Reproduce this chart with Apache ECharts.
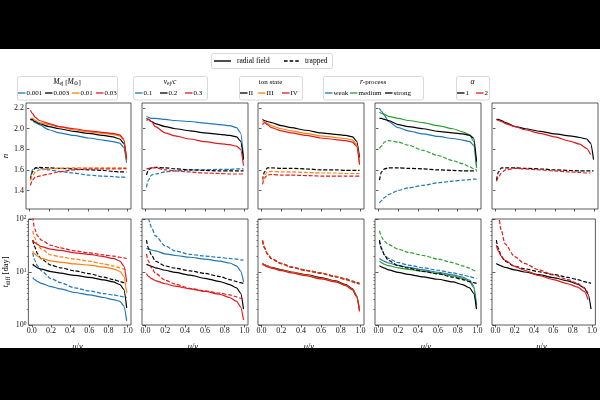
<!DOCTYPE html>
<html><head><meta charset="utf-8">
<script src="https://cdn.jsdelivr.net/npm/echarts@6/dist/echarts.min.js"></script>
<style>
html,body{margin:0;padding:0;background:#000;}
#wrap{position:relative;width:600px;height:400px;background:#000;}
#white{position:absolute;left:0;top:49px;width:600px;height:299px;background:#fff;}
#c{position:absolute;left:0;top:0;width:600px;height:400px;}
</style>
</head><body><div id="wrap"><div id="white"></div><div id="c"></div></div>
<script>
// sample positions u/v_ej
const X = [0.01,0.03,0.06,0.1,0.2,0.3,0.45,0.6,0.75,0.85,0.92,0.96,0.99];

// ---- top row: n ----
// M_ej
const n_m1_rad  = [2.09,2.08,2.06,2.04,1.99,1.96,1.935,1.91,1.89,1.875,1.86,1.82,1.67];
const n_m2_rad  = [2.09,2.09,2.07,2.05,2.02,2.00,1.975,1.955,1.935,1.92,1.90,1.86,1.70];
const n_m3_rad  = [2.10,2.10,2.08,2.06,2.04,2.02,1.99,1.97,1.955,1.945,1.93,1.89,1.70];
const n_m4_rad  = [2.18,2.15,2.11,2.08,2.05,2.02,2.00,1.98,1.965,1.955,1.94,1.90,1.71];
const n_m1_trap = [1.52,1.60,1.62,1.615,1.60,1.585,1.57,1.55,1.54,1.535,1.53,1.53,1.525];
const n_m2_trap = [1.50,1.58,1.62,1.625,1.62,1.615,1.61,1.60,1.595,1.585,1.58,1.58,1.58];
const n_m3_trap = [1.50,1.54,1.58,1.60,1.61,1.615,1.62,1.62,1.62,1.62,1.62,1.62,1.62];
const n_m4_trap = [1.45,1.50,1.53,1.54,1.56,1.58,1.60,1.61,1.61,1.61,1.61,1.615,1.61];
// v_ej
const n_v1_rad  = [2.12,2.11,2.10,2.10,2.09,2.08,2.07,2.055,2.04,2.03,2.01,1.96,1.72];
const n_v2_rad  = [2.10,2.09,2.07,2.05,2.02,2.00,1.98,1.96,1.945,1.935,1.92,1.88,1.70];
const n_v3_rad  = [2.08,2.09,2.07,2.02,1.96,1.93,1.90,1.875,1.855,1.845,1.83,1.80,1.64];
const n_v1_trap = [1.43,1.50,1.55,1.56,1.58,1.59,1.60,1.60,1.605,1.605,1.61,1.61,1.61];
const n_v2_trap = [1.55,1.60,1.62,1.625,1.62,1.61,1.60,1.595,1.59,1.59,1.59,1.59,1.59];
const n_v3_trap = [1.61,1.615,1.62,1.62,1.60,1.59,1.58,1.57,1.565,1.56,1.56,1.56,1.56];
// ion state
const n_i2_rad  = [2.09,2.08,2.07,2.06,2.03,2.01,1.985,1.96,1.945,1.935,1.92,1.88,1.72];
const n_i3_rad  = [2.07,2.07,2.05,2.03,2.00,1.98,1.955,1.93,1.915,1.905,1.89,1.85,1.67];
const n_i4_rad  = [2.04,2.06,2.04,2.01,1.98,1.96,1.935,1.91,1.895,1.885,1.87,1.83,1.65];
const n_i2_trap = [1.50,1.58,1.62,1.62,1.615,1.615,1.61,1.60,1.60,1.595,1.595,1.595,1.595];
const n_i3_trap = [1.50,1.55,1.58,1.585,1.58,1.58,1.575,1.57,1.57,1.565,1.565,1.565,1.565];
const n_i4_trap = [1.46,1.52,1.55,1.555,1.55,1.55,1.545,1.54,1.54,1.54,1.54,1.54,1.54];
// r-process
const n_rw_rad  = [2.20,2.17,2.13,2.07,2.01,1.98,1.95,1.925,1.905,1.89,1.875,1.84,1.62];
const n_rm_rad  = [2.16,2.15,2.14,2.12,2.10,2.08,2.06,2.03,2.00,1.97,1.94,1.88,1.64];
const n_rs_rad  = [2.10,2.10,2.09,2.08,2.04,2.02,2.00,1.975,1.96,1.95,1.935,1.91,1.68];
const n_rw_trap = [1.28,1.30,1.33,1.36,1.40,1.425,1.45,1.475,1.49,1.50,1.505,1.51,1.51];
const n_rm_trap = [1.81,1.83,1.87,1.885,1.87,1.84,1.79,1.74,1.69,1.66,1.63,1.61,1.60];
const n_rs_trap = [1.50,1.58,1.61,1.62,1.62,1.615,1.61,1.60,1.595,1.59,1.59,1.59,1.59];
// alpha
const n_a1_rad  = [2.09,2.09,2.08,2.06,2.02,2.00,1.975,1.95,1.93,1.915,1.90,1.86,1.70];
const n_a2_rad  = [2.09,2.08,2.07,2.05,2.02,1.99,1.955,1.92,1.88,1.85,1.81,1.75,null];
const n_a1_trap = [1.50,1.58,1.62,1.62,1.62,1.615,1.61,1.60,1.595,1.59,1.59,1.59,1.59];
const n_a2_trap = [1.49,1.53,1.57,1.60,1.615,1.61,1.60,1.59,1.58,1.575,1.57,1.57,null];

// ---- bottom row: t_diff [day] ----
const t_m1_rad  = [7.8,7.2,6.6,6.1,5.3,4.8,4.1,3.7,3.3,3.0,2.8,2.3,1.2];
const t_m2_rad  = [14,13,12,11.3,10.2,9.5,8.6,7.9,7.1,6.5,5.8,4.7,2.1];
const t_m3_rad  = [25,22,20,18,16.2,15.3,14.2,13.5,12.4,11.5,10.3,8.3,4.0];
const t_m4_rad  = [40,36,33,30,27,25.5,23,21.5,19.5,18,16,13,6.5];
const t_m1_trap = [23,17,13,10.5,7.5,6.3,5.0,4.4,3.9,3.7,3.5,3.4,3.3];
const t_m2_trap = [40,30,22,17.5,13.5,12,10.5,9.3,8.0,7.2,6.6,6.3,6.1];
const t_m3_trap = [60,45,33,27,21,19.3,17.5,16,14.2,13,12,11.3,10.8];
const t_m4_trap = [110,66,48,40,32,28.5,25,23,21,20,19,18.5,18];

const t_v1_rad  = [28,27,26,25,22,20.5,19,17.5,16,14.8,13,10.5,6.5];
const t_v2_rad  = [14,13.5,12.8,12,10.8,9.8,8.7,7.6,6.6,5.8,5.0,4.0,2.0];
const t_v3_rad  = [9.3,8.3,7.5,6.9,6.0,5.4,4.8,4.3,3.8,3.3,2.8,2.2,1.25];
const t_v1_trap = [130,100,70,48,31,25,21.5,20,18.8,18,17.5,17,16.8];
const t_v2_trap = [40,28,21,16,13,11.8,10.5,9.4,8.2,7.2,6.6,6.3,6.1];
const t_v3_trap = [22,16,12,9.5,7.0,5.9,4.9,4.4,4.0,3.7,3.4,3.2,3.0];

const t_i2_rad  = [14.5,13.8,13,12.2,11,10,8.9,7.8,6.8,5.8,4.8,3.6,1.9];
const t_i3_rad  = [14.3,13.6,12.8,12.0,10.8,9.8,8.7,7.6,6.6,5.6,4.7,3.5,1.85];
const t_i4_rad  = [14.0,13.3,12.5,11.8,10.6,9.6,8.5,7.4,6.5,5.5,4.6,3.4,1.8];
const t_i2_trap = [40,29,22,18,14.5,12.5,10.8,9.6,8.3,7.4,6.7,6.3,6.1];
const t_i3_trap = [40,29,22,18,14.4,12.4,10.7,9.5,8.2,7.3,6.6,6.2,6.0];
const t_i4_trap = [39,28.5,21.7,17.8,14.3,12.3,10.6,9.4,8.1,7.2,6.5,6.1,5.9];

const t_rw_rad  = [18,17,15.8,14.8,13.3,12.2,11.0,9.9,8.8,8.0,7.0,5.5,2.4];
const t_rm_rad  = [16,15,14,13.2,12,11.2,10.3,9.4,8.4,7.6,6.6,5.1,2.1];
const t_rs_rad  = [13.2,12.5,11.8,11,9.8,9.0,8.1,7.3,6.5,5.8,5.0,4.0,2.0];
const t_rw_trap = [38,27,21,18,15,13.5,12,10.8,9.6,8.8,8.2,7.8,7.5];
const t_rm_trap = [60,46,38,33,27,23.5,20.5,17.5,15,13,11.8,10.8,10];
const t_rs_trap = [40,28,21,16.5,13.2,11.8,10.3,9.2,8.0,7.2,6.6,6.3,6.1];

const t_a1_rad  = [14.5,13.8,13,12.2,11,10,8.9,7.8,6.8,5.9,5.0,3.8,2.0];
const t_a2_rad  = [32,25,20,16.5,12.8,10.8,8.6,7.2,6.0,5.2,4.3,3.0,null];
const t_a1_trap = [40,28,20,16,12.8,11.5,10.1,9.0,7.9,7.2,6.6,6.3,6.1];
const t_a2_trap = [200,120,62,34,19.5,14.5,11,8.8,7.2,6.1,5.0,4.0,null];

// tick labels
const TICKS_X = [0, 0.2, 0.4, 0.6, 0.8, 1.0];
const TICKS_N = [1.4, 1.6, 1.8, 2.0, 2.2];
const TICKS_T = [1, 10, 100];
const MINOR_T = [2,3,4,5,6,7,8,9,20,30,40,50,60,70,80,90];

// legend texts
const LEGEND_MAIN = ['radial field', 'trapped'];
const BLUE='#1f77b4', ORANGE='#ff7f0e', GREEN='#2ca02c', RED='#e3191c', BLACK='#000000';

const groups = [
  {title:'{i|M}{s|ej} [{i|M}{s|⊙}]', labels:['0.001','0.003','0.01','0.03'], colors:[BLUE,BLACK,ORANGE,RED],
   nRad:[n_m1_rad,n_m2_rad,n_m3_rad,n_m4_rad], nTrap:[n_m1_trap,n_m2_trap,n_m3_trap,n_m4_trap],
   tRad:[t_m1_rad,t_m2_rad,t_m3_rad,t_m4_rad], tTrap:[t_m1_trap,t_m2_trap,t_m3_trap,t_m4_trap]},
  {title:'{i|v}{s|ej}{n|/}{i|c}', labels:['0.1','0.2','0.3'], colors:[BLUE,BLACK,RED],
   nRad:[n_v1_rad,n_v2_rad,n_v3_rad], nTrap:[n_v1_trap,n_v2_trap,n_v3_trap],
   tRad:[t_v1_rad,t_v2_rad,t_v3_rad], tTrap:[t_v1_trap,t_v2_trap,t_v3_trap]},
  {title:'ion state', labels:['II','III','IV'], colors:[BLACK,ORANGE,RED],
   nRad:[n_i2_rad,n_i3_rad,n_i4_rad], nTrap:[n_i2_trap,n_i3_trap,n_i4_trap],
   tRad:[t_i2_rad,t_i3_rad,t_i4_rad], tTrap:[t_i2_trap,t_i3_trap,t_i4_trap]},
  {title:'{i|r}{n|-process}', labels:['weak','medium','strong'], colors:[BLUE,GREEN,BLACK],
   nRad:[n_rw_rad,n_rm_rad,n_rs_rad], nTrap:[n_rw_trap,n_rm_trap,n_rs_trap],
   tRad:[t_rw_rad,t_rm_rad,t_rs_rad], tTrap:[t_rw_trap,t_rm_trap,t_rs_trap]},
  {title:'{i|α}', labels:['1','2'], colors:[BLACK,RED],
   nRad:[n_a1_rad,n_a2_rad], nTrap:[n_a1_trap,n_a2_trap],
   tRad:[t_a1_rad,t_a2_rad], tTrap:[t_a1_trap,t_a2_trap]}
];

// ---- layout (positions only) ----
const FONT = '"Liberation Serif","DejaVu Serif",serif';
const PANEL_LEFT = [25, 142, 258, 375, 492];
const PANEL_W = 106, PANEL_H = 106, TOP_Y = 103, BOT_Y = 219;
const LEG_BOX = [[17,100],[133,74],[239,63],[323,100],[456,33]];
const LEG_ITEM_X = [[18,45,72,96],[135,160,185],[240,258,282],[325,350,385],[457,476]];
const DASH = [4, 1.8];
const AX = '#333';

const richMath = (size) => ({
  i: {fontStyle:'italic', fontFamily:FONT, fontSize:size, lineHeight:size+4, color:'#000'},
  s: {fontFamily:FONT, fontSize:Math.round(size*0.75), verticalAlign:'bottom', lineHeight:Math.round(size*0.75)+1, color:'#000'},
  n: {fontFamily:FONT, fontSize:size, lineHeight:size+4, color:'#000'}
});

const grids = [], xAxes = [], yAxes = [], series = [];
for (let row = 0; row < 2; row++) {
  for (let p = 0; p < 5; p++) {
    const gi = row*5 + p;
    grids.push({left:PANEL_LEFT[p], top: row===0?TOP_Y:BOT_Y, width:PANEL_W, height:PANEL_H,
      show:true, borderColor:AX, borderWidth:0.8, backgroundColor:'transparent', containLabel:false});
    xAxes.push({gridIndex:gi, type:'value', min:-0.035, max:1.035,
      axisLine:{show:false}, splitLine:{show:false},
      axisTick:{show:true, customValues:TICKS_X, length:2.5, lineStyle:{color:AX, width:0.8}},
      axisLabel:{show:row===1, customValues:TICKS_X, formatter:(v)=>Number(v).toFixed(1), fontFamily:FONT, fontSize:8, color:'#111', margin:2},
      name: row===1 ? '{i|u}{n|/}{i|v}{s|ej}' : '', nameLocation:'middle', nameGap:16,
      nameTextStyle:{fontFamily:FONT, fontSize:8.5, rich:richMath(8.5)}});
    if (row === 0) {
      yAxes.push({gridIndex:gi, type:'value', min:1.22, max:2.25, position:'left',
        axisLine:{show:false}, splitLine:{show:false},
        axisTick:{show:true, customValues:TICKS_N, length:2.5, lineStyle:{color:AX, width:0.8}},
        axisLabel:{show:p===0, customValues:TICKS_N, formatter:(v)=>Number(v).toFixed(1), fontFamily:FONT, fontSize:8, color:'#111', margin:2},
        name: p===0 ? '{i|n}' : '', nameLocation:'middle', nameGap:14,
        nameTextStyle:{fontFamily:FONT, fontSize:9, rich:richMath(9)}});
    } else {
      yAxes.push({gridIndex:gi, type:'log', logBase:10, min:1, max:100, position:'left',
        axisLine:{show:false}, splitLine:{show:false},
        axisTick:{show:true, customValues:TICKS_T, length:3, lineStyle:{color:AX, width:0.8}},
        axisLabel:{show:p===0, customValues:TICKS_T, formatter:(v)=>'10{sup|'+Math.round(Math.log10(v))+'}',
          fontFamily:FONT, fontSize:8, color:'#111', margin:2,
          rich:{sup:{fontFamily:FONT, fontSize:5.5, verticalAlign:'top', lineHeight:5, color:'#111'}}},
        name: p===0 ? '{i|t}{s|diff} {n|[day]}' : '', nameLocation:'middle', nameGap:15,
        nameTextStyle:{fontFamily:FONT, fontSize:8.5, rich:richMath(8.5)}});
    }
  }
}
// minor ticks for the log axes
for (let p = 0; p < 5; p++) {
  yAxes.push({gridIndex:5+p, type:'log', logBase:10, min:1, max:100, position:'left', offset:0,
    axisLine:{show:false}, splitLine:{show:false}, axisLabel:{show:false},
    axisTick:{show:true, customValues:MINOR_T, length:1.6, lineStyle:{color:AX, width:0.6}}});
}

function mk(gi, ys, color, dashed, name) {
  const data = [];
  X.forEach((x, i) => { if (ys[i] != null) data.push([x, ys[i]]); });
  return {type:'line', name, xAxisIndex:gi, yAxisIndex:gi, data, symbol:'none', showSymbol:false,
    smooth:0.25, smoothMonotone:'x', clip:true, silent:true,
    lineStyle:{color, width:1.2, type: dashed ? DASH : 'solid'}, itemStyle:{color},
    emphasis:{disabled:true}};
}

groups.forEach((g, p) => {
  g.labels.forEach((lab, k) => {
    const c = g.colors[k];
    series.push(mk(p, g.nRad[k], c, false, lab));
    series.push(mk(p, g.nTrap[k], c, true, lab + ' trapped'));
    series.push(mk(5+p, g.tRad[k], c, false, lab));
    series.push(mk(5+p, g.tTrap[k], c, true, lab + ' trapped'));
  });
});

// legends drawn as graphic elements
const graphics = [];
graphics.push({type:'rect', shape:{x:211.5, y:53.5, width:121, height:15, r:2}, style:{fill:'#fff', stroke:'#cfcfcf', lineWidth:0.8}});
graphics.push({type:'line', shape:{x1:214, y1:61, x2:231, y2:61}, style:{stroke:BLACK, lineWidth:1.4}});
graphics.push({type:'text', x:237, y:61, style:{text:LEGEND_MAIN[0], fontFamily:FONT, fontSize:7.5, fill:'#000', verticalAlign:'middle', align:'left'}});
graphics.push({type:'line', shape:{x1:284, y1:61, x2:300, y2:61}, style:{stroke:BLACK, lineWidth:1.4, lineDash:[3.6,2]}});
graphics.push({type:'text', x:305, y:61, style:{text:LEGEND_MAIN[1], fontFamily:FONT, fontSize:7.5, fill:'#000', verticalAlign:'middle', align:'left'}});

const titleRich = {
  i:{fontStyle:'italic', fontFamily:FONT, fontSize:7.5, lineHeight:10, fill:'#000'},
  n:{fontFamily:FONT, fontSize:7, lineHeight:10, fill:'#000'},
  s:{fontFamily:FONT, fontSize:5.5, verticalAlign:'bottom', lineHeight:6, fill:'#000'}
};
groups.forEach((g, p) => {
  const [bx, bw] = LEG_BOX[p];
  graphics.push({type:'rect', shape:{x:bx+0.5, y:76.5, width:bw, height:23.5, r:2}, style:{fill:'#fff', stroke:'#cfcfcf', lineWidth:0.8}});
  graphics.push({type:'text', x:bx+bw/2, y:82, style:{text:g.title, fontFamily:FONT, fontSize:7, fill:'#000', align:'center', verticalAlign:'middle', rich:titleRich}});
  g.labels.forEach((lab, k) => {
    const lx = LEG_ITEM_X[p][k];
    graphics.push({type:'line', shape:{x1:lx, y1:93, x2:lx+7.5, y2:93}, style:{stroke:g.colors[k], lineWidth:1.3}});
    graphics.push({type:'text', x:lx+8.5, y:93, style:{text:lab, fontFamily:FONT, fontSize:7, fill:'#000', verticalAlign:'middle', align:'left'}});
  });
});

const chart = echarts.init(document.getElementById('c'), null, {renderer:'canvas', width:600, height:400});
chart.setOption({
  backgroundColor:'transparent',
  animation:false,
  textStyle:{fontFamily:FONT},
  grid:grids, xAxis:xAxes, yAxis:yAxes, series,
  graphic:{elements:graphics}
});
</script>
</body></html>
